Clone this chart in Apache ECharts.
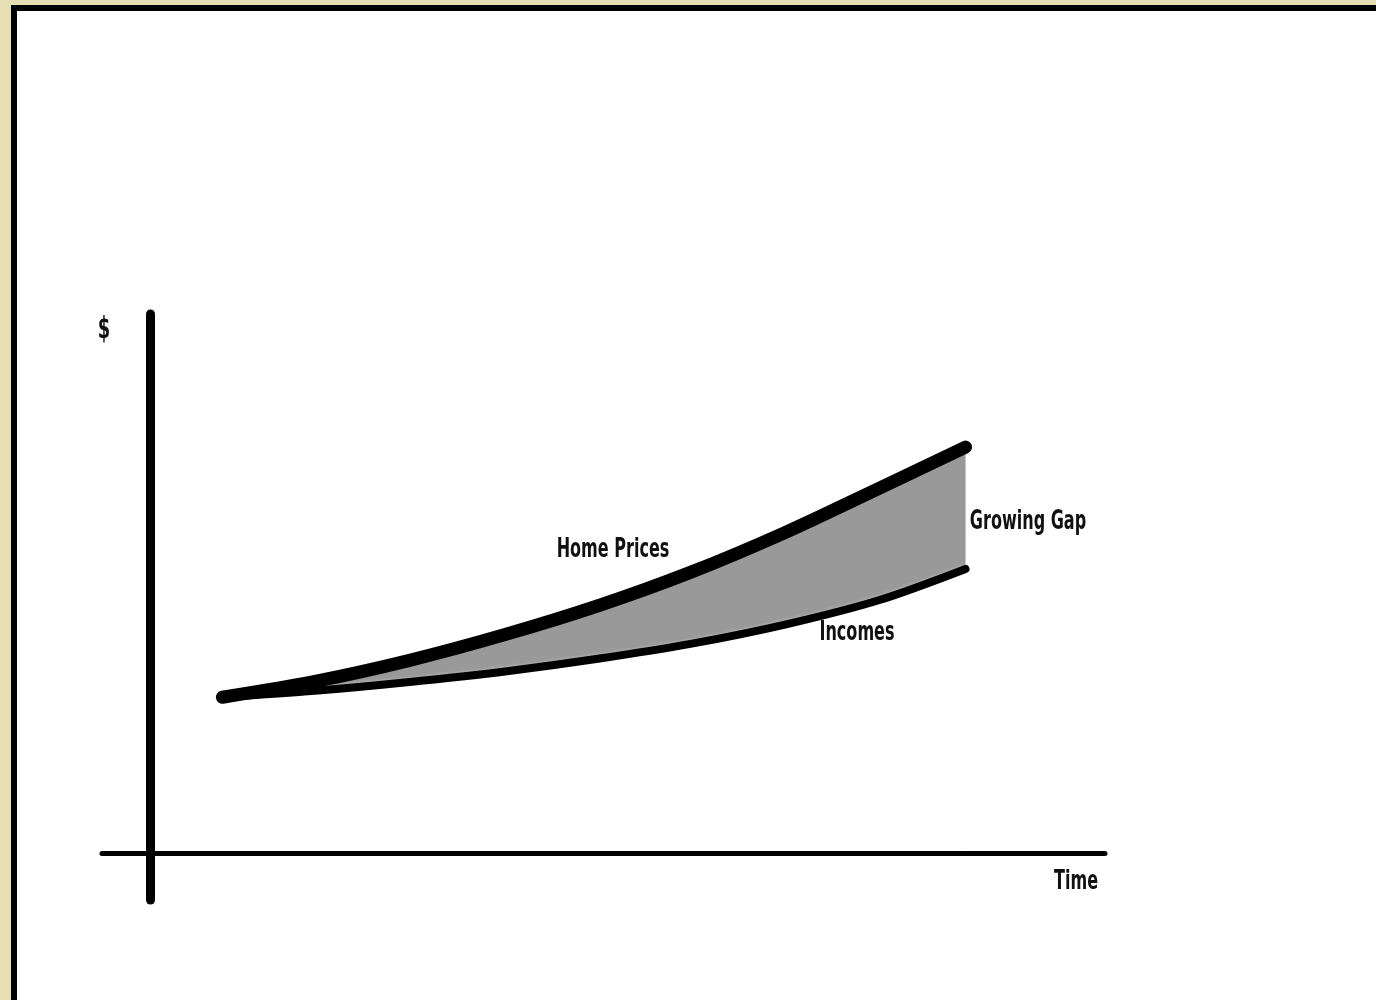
<!DOCTYPE html>
<html>
<head>
<meta charset="utf-8">
<title>Home Prices vs Incomes</title>
<script src="https://cdn.jsdelivr.net/npm/echarts@6/dist/echarts.min.js"></script>
<style>
  html, body { margin: 0; padding: 0; background: #e6dfb3; overflow: hidden; }
  #frame {
    position: absolute; left: 11px; top: 5px; width: 1400px; height: 1020px;
    border-left: 6px solid #000; border-top: 6px solid #000; background: #fff;
  }
  #chart { position: absolute; left: 0; top: 0; width: 1376px; height: 1000px; }
</style>
</head>
<body>
<div id="frame"></div>
<div id="chart"></div>
<script>
// time steps (x) and the two curves ($)
const times      = [7.6, 17.3, 27.2, 37.2, 47.1, 56.6, 66.5, 76.4, 85.4];
const homePrices = [26.6, 29.3, 32.9, 37.3, 42.3, 47.9, 54.7, 62.3, 69.3];
const incomes    = [26.6, 27.7, 29.2, 31.0, 33.2, 35.7, 39.0, 43.2, 48.5];

const FONT = "'Liberation Sans Narrow', 'DejaVu Sans Condensed', sans-serif";
const SMOOTH = 0.3;

const pairs = (ys) => times.map((t, i) => [t, ys[i]]);

const chart = echarts.init(document.getElementById('chart'), null, { renderer: 'canvas' });

const label = (text, x, y, size) => ({
  type: 'text', x: x, y: y, scaleX: 0.66, z: 100,
  style: {
    text: text, x: 0, y: 0, align: 'center', verticalAlign: 'middle',
    font: 'bold ' + (size || 27) + 'px ' + FONT, fill: '#111'
  }
});

// the gap: grey under home prices, then white under incomes (twice, to hide the AA seams)
const area = (ys, color, z, extra) => ({
  type: 'line', data: pairs(ys), smooth: SMOOTH, showSymbol: false, silent: true,
  lineStyle: { width: 0, opacity: 0 },
  areaStyle: Object.assign({ color: color, opacity: 1, origin: 0 }, extra), z: z
});

const curve = (name, ys, width, z) => ({
  name: name, type: 'line', data: pairs(ys), smooth: SMOOTH, showSymbol: false,
  lineStyle: { color: '#000', width: width, cap: 'round', join: 'round' }, z: z
});

const whiteOut = { shadowColor: '#ffffff', shadowBlur: 6 };

chart.setOption({
  animation: false,
  backgroundColor: 'transparent',
  grid: { left: 102, right: 271, top: 314, bottom: 100 },
  xAxis: {
    type: 'value', min: -5, max: 100, z: 10,
    axisLine: { onZero: true, lineStyle: { color: '#000', width: 5, cap: 'round' } },
    axisTick: { show: false }, axisLabel: { show: false }, splitLine: { show: false }
  },
  yAxis: {
    type: 'value', min: -8, max: 92, z: 10,
    axisLine: { onZero: true, lineStyle: { color: '#000', width: 9, cap: 'round' } },
    axisTick: { show: false }, axisLabel: { show: false }, splitLine: { show: false }
  },
  series: [
    area(homePrices, '#999999', 1),
    area(incomes, '#ffffff', 2, whiteOut),
    area(incomes, '#ffffff', 2, whiteOut),
    curve('Incomes', incomes, 8, 3),
    curve('Home Prices', homePrices, 13, 4)
  ],
  graphic: [
    label('$', 104, 330, 30),
    label('Home Prices', 613, 550),
    label('Incomes', 857, 633),
    label('Growing Gap', 1028, 522),
    label('Time', 1076, 882)
  ]
});
</script>
</body>
</html>
